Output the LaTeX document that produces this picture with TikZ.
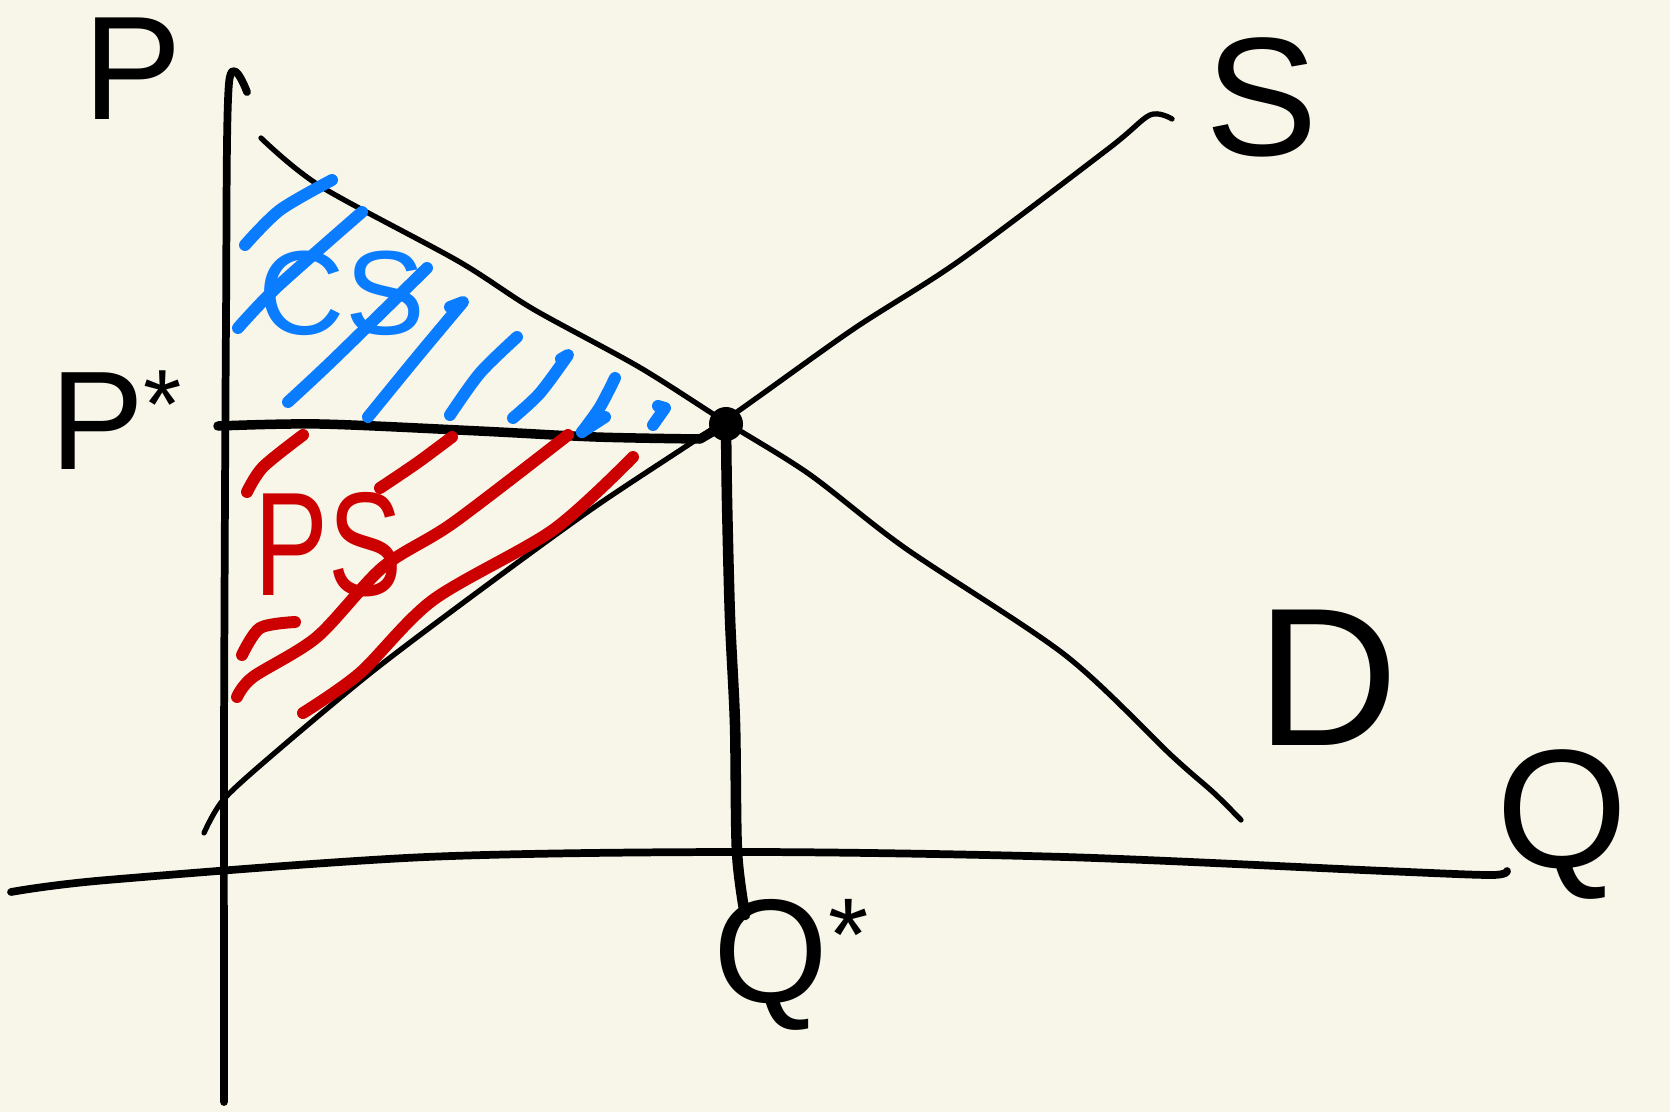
\documentclass[tikz,border=0pt]{standalone}
\usepackage{fontspec}
\setmainfont{Liberation Sans}
\usepackage{xcolor}
\usepackage{tikz}
\usetikzlibrary{positioning, calc}
\definecolor{paper}{HTML}{F8F5E9}
\definecolor{csblue}{HTML}{0A7CFF}
\definecolor{psred}{HTML}{CC0000}

\begin{document}
\begin{tikzpicture}[x=0.01cm, y=-0.01cm,
    axis/.style={line width=2.2pt, line cap=round, line join=round},
    curve/.style={line width=1.5pt, line cap=round, line join=round},
    hatch/.style={line width=3.4pt, line cap=round, line join=round},
    lbl/.style={inner sep=0pt, font=\fontsize{#1}{#1}\selectfont}]
  \fill[paper] (0,0) rectangle (1670,1112);
  \useasboundingbox (0,0) rectangle (1670,1112);

  % axes
  \draw[axis] plot[smooth] coordinates {(247,92) (229,83) (226,320) (224,745) (224,1102)};
  \draw[axis] plot[smooth] coordinates {(11,892) (107,880) (426,857) (745,852) (1065,857) (1385,871) (1491,875) (1507,871)};

  % demand and supply
  \draw[curve] plot[smooth] coordinates {(261,138) (320,186) (458,261) (533,309) (639,367)
    (724,421) (809,474) (905,548) (1065,655) (1172,756) (1214,793) (1241,820)};
  \draw[curve] plot[smooth] coordinates {(204,833) (224,799) (277,751) (373,671) (479,591)
    (596,506) (724,421) (852,330) (959,261) (1108,149) (1150,115) (1172,119)};

  % equilibrium
  \node[circle, fill=black, minimum size=0.34cm, inner sep=0pt] (eq) at (726,424) {};
  \coordinate (pstart) at (218,426);
  \coordinate (qend) at (745,915);
  \draw[axis, line width=2.7pt] plot[smooth] coordinates {(pstart) (320,424) (479,431) (596,437) (700,439)} -- (eq.center);
  \draw[axis, line width=3pt] plot[smooth] coordinates {(eq.center) (727,500) (730,618) (735,724) (737,852) (qend)};

  % consumer surplus hatching
  \draw[hatch, csblue] plot[smooth] coordinates {(245,245) (280,210) (332,180)};
  \draw[hatch, csblue] plot[smooth] coordinates {(238,328) (277,287) (362,212)};
  \draw[hatch, csblue] plot[smooth] coordinates {(288,402) (333,360) (427,268)};
  \draw[hatch, csblue] plot[smooth] coordinates {(368,417) (417,357) (463,302)} -- (450,307);
  \draw[hatch, csblue] plot[smooth] coordinates {(450,415) (480,373) (517,337)};
  \draw[hatch, csblue] plot[smooth] coordinates {(513,418) (540,393) (568,355)} -- (561,359);
  \draw[hatch, csblue] plot[smooth] coordinates {(582,432) (600,407) (615,378)};
  \draw[hatch, csblue] (582,432) -- (605,417);
  \draw[hatch, csblue] (653,425) -- (665,408) -- (658,406);

  % producer surplus hatching
  \draw[hatch, psred] plot[smooth] coordinates {(247,492) (263,467) (303,435)};
  \draw[hatch, psred] plot[smooth] coordinates {(380,488) (417,463) (452,437)};
  \draw[hatch, psred] plot[smooth] coordinates {(242,655) (260,628) (295,622)};
  \draw[hatch, psred] plot[smooth] coordinates {(237,697) (253,677) (317,637) (383,567) (453,523) (568,435)};
  \draw[hatch, psred] plot[smooth] coordinates {(303,713) (360,673) (433,600) (553,530) (633,457)};

  % labels
  \node[lbl=42] (plabel) at (133,69) {P};
  \node[lbl=48] (slabel) at (1262,97) {S};
  \node[lbl=40] (pstar) at (117,420) {P\textsuperscript{*}};
  \node[lbl=56] (dlabel) at (1328,678) {D};
  \node[lbl=48] (qlabel) at (1562,825) {Q};
  \node[lbl=42] (qstar) at (792,965) {Q\textsuperscript{*}};
  \node[lbl=34, text=csblue] (cs) at (342,293) {CS};
  \node[lbl=42, text=psred] (ps) at (328,545) {\scalebox{0.75}[1]{PS}};
\end{tikzpicture}
\end{document}
